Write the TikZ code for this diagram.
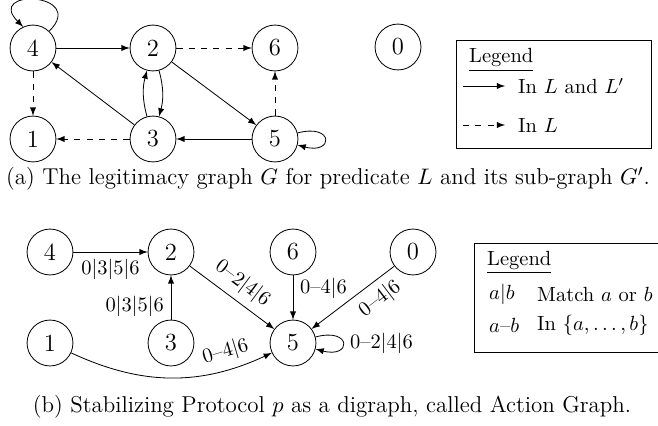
\documentclass[tikz,border=0pt]{standalone}
\usetikzlibrary{arrows.meta}

\begin{document}
\begin{tikzpicture}[x=0.4878pt, y=0.4878pt, >=latex,
    state/.style={circle, draw, minimum size=22.4pt, inner sep=0pt, font=\large},
    legtext/.style={anchor=west},
    captext/.style={font=\fontsize{11.2}{13}\selectfont}]
    % --- Page frame ---
    \useasboundingbox (0,0) rectangle (658,425);

    % --- (a) Legitimacy graph ---
    % Top row
    \node[state] (a4) at (33,377) {4};
    \node[state] (a2) at (153,377) {2};
    \node[state] (a6) at (275,377) {6};
    \node[state] (a0) at (398,378) {0};
    % Bottom row
    \node[state] (a1) at (33,286) {1};
    \node[state] (a3) at (153,286) {3};
    \node[state] (a5) at (275,286) {5};

    % Edges in L and L'
    \draw[->] (a4.46) .. controls +(45:55) and +(135:55) .. (a4.115);
    \draw[->] (a4) -- (a2);
    \draw[->] (a3) -- (a4);
    \draw[->] (a3) to[bend left=15] (a2);
    \draw[->] (a2) to[bend left=15] (a3);
    \draw[->] (a2) -- (a5);
    \draw[->] (a5) -- (a3);
    \draw[->] (a5) to[loop right] (a5);
    % Edges in L only
    \draw[->, dashed] (a2) -- (a6);
    \draw[->, dashed] (a4) -- (a1);
    \draw[->, dashed] (a3) -- (a1);
    \draw[->, dashed] (a5) -- (a6);

    % Legend
    \draw (456,277) rectangle (651,385);
    \node[anchor=base west] (legatitle) at (462,362) {\underline{Legend}};
    \coordinate (legas) at (463,339);
    \coordinate (legae) at (505,339);
    \draw[->] (legas) -- (legae);
    \node[legtext] (legaone) at (511,339) {In $L$ and $L'$};
    \coordinate (legbs) at (463,300);
    \coordinate (legbe) at (505,300);
    \draw[->, dashed] (legbs) -- (legbe);
    \node[legtext] (legatwo) at (511,300) {In $L$};

    % Caption
    \node[captext] (capa) at (328,246) {(a) The legitimacy graph $G$ for predicate $L$ and its sub-graph $G'$.};

    % --- (b) Action graph ---
    % Top row
    \node[state] (b4) at (50,173) {4};
    \node[state] (b2) at (171,173) {2};
    \node[state] (b6) at (293,173) {6};
    \node[state] (b0) at (413,173) {0};
    % Bottom row
    \node[state] (b1) at (50,82) {1};
    \node[state] (b3) at (171,82) {3};
    \node[state] (b5) at (293,82) {5};

    % Actions
    \draw[->] (b4) -- node[below] {0$|$3$|$5$|$6} (b2);
    \draw[->] (b3) -- node[left, pos=0.3] {0$|$3$|$5$|$6} (b2);
    \draw[->] (b2) -- node[above, sloped] {0--2$|$4$|$6} (b5);
    \draw[->] (b6) -- node[right, pos=0.3] {0--4$|$6} (b5);
    \draw[->] (b0) -- node[below, sloped, pos=0.3] {0--4$|$6} (b5);
    \draw[->] (b1) to[bend right=25] node[above, sloped, pos=0.8] {0--4$|$6} (b5);
    \draw[->] (b5) to[loop right] node[right] {0--2$|$4$|$6} (b5);

    % Legend
    \draw (474,73) rectangle (664,182);
    \node[anchor=base west] (legbtitle) at (480,160) {\underline{Legend}};
    \node[legtext] (legbsymone) at (482,131) {$a|b$};
    \node[legtext] (legbone) at (530,131) {Match $a$ or $b$};
    \node[legtext] (legbsymtwo) at (482,100) {$a$--$b$};
    \node[legtext] (legbtwo) at (530,100) {In $\{a,\dots,b\}$};

    % Caption
    \node[captext] (capb) at (332,18) {(b) Stabilizing Protocol $p$ as a digraph, called Action Graph.};
\end{tikzpicture}
\end{document}
